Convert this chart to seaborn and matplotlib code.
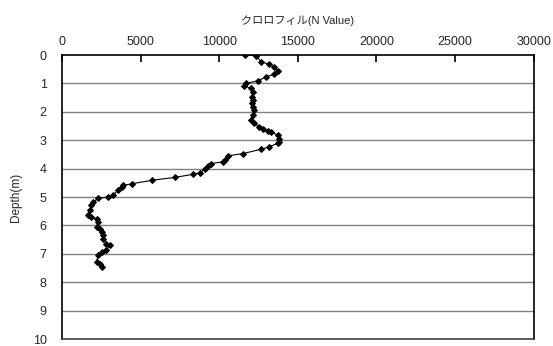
import pandas as pd
import matplotlib
matplotlib.use("Agg")
import matplotlib.pyplot as plt
import seaborn as sns

depth = [0.00, 0.02, 0.24, 0.32, 0.43, 0.55, 0.67, 0.77, 0.91, 1.00,
         1.09, 1.17, 1.29, 1.47, 1.59, 1.70, 1.82, 1.94, 2.12, 2.29,
         2.41, 2.53, 2.61, 2.68, 2.71, 2.82, 2.94, 3.06, 3.11, 3.23,
         3.32, 3.47, 3.55, 3.68, 3.76, 3.82, 3.92, 4.03, 4.15, 4.20,
         4.31, 4.41, 4.53, 4.59, 4.65, 4.76, 4.94, 5.00, 5.05, 5.17,
         5.29, 5.47, 5.64, 5.72, 5.76, 5.88, 6.06, 6.11, 6.23, 6.35,
         6.47, 6.64, 6.70, 6.88, 6.94, 7.05, 7.29, 7.35, 7.47]
chl = [11670, 12350, 12660, 13190, 13510, 13720, 13510, 12980, 12450, 11710,
       11610, 12030, 12130, 12090, 12130, 12090, 12130, 12240, 12130, 12030,
       12240, 12560, 12770, 13080, 13300, 13720, 13830, 13830, 13720, 13190,
       12660, 11500, 10550, 10340, 10230, 9490, 9280, 9070, 8750, 8330,
       7170, 5710, 4480, 3890, 3790, 3570, 3250, 2940, 2300, 1990,
       1880, 1780, 1670, 1880, 2200, 2300, 2200, 2410, 2520, 2620,
       2620, 2830, 3040, 2830, 2520, 2300, 2200, 2410, 2520]

x_ticks = [0, 5000, 10000, 15000, 20000, 25000, 30000]
y_ticks = list(range(0, 11))

df = pd.DataFrame({"depth": depth, "chl": chl})

sns.set_style("ticks")
plt.rcParams["font.family"] = ["Liberation Sans", "Noto Sans CJK JP", "DejaVu Sans"]

fig = plt.figure(figsize=(5.53, 3.46), dpi=100)
ax = fig.add_axes([0.112, 0.020, 0.853, 0.821])

for d in y_ticks[1:-1]:
    ax.axhline(d, color="#808080", lw=1.0, zorder=0)

sns.lineplot(data=df, x="chl", y="depth", sort=False, estimator=None,
             color="black", lw=0.8, marker="D", markersize=3,
             markeredgecolor="black", ax=ax)

ax.set_xlim(0, 30000)
ax.set_ylim(10, 0)
ax.set_xticks(x_ticks)
ax.set_yticks(y_ticks)
ax.xaxis.tick_top()
ax.xaxis.set_label_position("top")
ax.tick_params(axis="x", which="major", direction="in", length=5, width=1.2,
               color="black", labelsize=9, pad=5, top=True, bottom=False)
ax.tick_params(axis="y", direction="in", length=0, labelsize=9, pad=11)
ax.set_xlabel("クロロフィル(N Value)", fontsize=8, labelpad=9)
ax.set_ylabel("Depth(m)", fontsize=8.5, labelpad=8)

for name, s in ax.spines.items():
    s.set_visible(True)
    s.set_color("black")
    s.set_linewidth(1.2)
    s.set_zorder(5)
ax.spines["bottom"].set_color("#404040")

fig.savefig("out.png", dpi=100)
